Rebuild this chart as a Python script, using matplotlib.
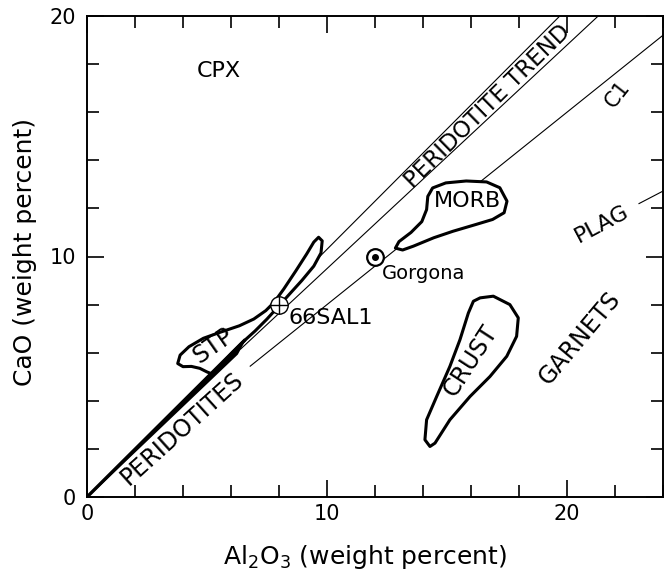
import matplotlib.pyplot as plt

# field outlines, Al2O3 vs CaO (weight percent)
stp_al = [3.78, 3.88, 4.25, 4.85, 5.55, 6.35, 6.95, 7.45, 7.8, 8.2, 8.7, 9.15, 9.45, 9.65, 9.8,
          9.75, 9.45, 8.95, 8.45, 8.0, 7.5, 7.0, 6.5, 6.0, 5.5, 5.25, 5.0, 4.7, 4.35, 4.0, 3.78]
stp_ca = [5.55, 5.9, 6.25, 6.6, 6.85, 7.12, 7.4, 7.75, 8.1, 8.65, 9.4, 10.1, 10.6, 10.8, 10.65,
          10.15, 9.6, 9.0, 8.45, 7.95, 7.4, 6.9, 6.45, 5.95, 5.4, 5.1, 5.2, 5.35, 5.43, 5.42, 5.55]

morb_al = [12.85, 13.0, 13.5, 13.95, 14.15, 14.2, 14.4, 14.95, 15.8, 16.65, 17.2, 17.5,
           17.38, 16.9, 16.2, 15.25, 14.45, 13.6, 13.15, 12.85]
morb_ca = [10.35, 10.62, 11.0, 11.45, 11.95, 12.5, 12.85, 13.06, 13.14, 13.1, 12.86, 12.3,
           11.82, 11.54, 11.33, 11.05, 10.78, 10.43, 10.27, 10.35]

crust_al = [16.38, 16.93, 17.62, 17.97, 17.9, 17.49, 16.79, 15.96, 15.12, 14.5, 14.29, 14.08,
            14.15, 14.57, 15.12, 15.54, 15.89, 16.1, 16.38]
crust_ca = [8.28, 8.35, 8.0, 7.45, 6.68, 5.85, 5.01, 4.18, 3.21, 2.24, 2.1, 2.38,
            3.21, 4.18, 5.43, 6.54, 7.65, 8.14, 8.28]

# reference lines (start, end)
c1_al = [6.8, 24.0]
c1_ca = [5.44, 19.2]
trend_upper_al = [9.7, 19.7]
trend_upper_ca = [10.0, 20.0]
trend_lower_al = [6.4, 21.3]
trend_lower_ca = [6.15, 20.0]
plag_al = [23.0, 24.0]
plag_ca = [12.2, 12.72]

# peridotite wedge
perid_al = [0.0, 6.55, 6.25]
perid_ca = [0.0, 6.5, 5.95]

# samples
sal_al, sal_ca = 8.0, 8.0
gorgona_al, gorgona_ca = 12.0, 10.0

fig = plt.figure(figsize=(6.65, 5.79), dpi=100)
ax = fig.add_axes([87 / 665, 82 / 579, 576 / 665, 481 / 579])
ax.set_xlim(0, 24)
ax.set_ylim(0, 20)

lw_thin = 0.8
ax.plot(c1_al, c1_ca, color="black", lw=lw_thin, zorder=1)
ax.plot(trend_upper_al, trend_upper_ca, color="black", lw=lw_thin, zorder=1)
ax.plot(trend_lower_al, trend_lower_ca, color="black", lw=lw_thin, zorder=1)
ax.plot(plag_al, plag_ca, color="black", lw=lw_thin, zorder=1)

for al, ca in [(stp_al, stp_ca), (morb_al, morb_ca), (crust_al, crust_ca)]:
    ax.fill(al, ca, facecolor="white", edgecolor="black", lw=2.2, joinstyle="round", zorder=2)

ax.fill(perid_al, perid_ca, color="black", lw=1.5, joinstyle="round", zorder=3)
ax.plot([perid_al[0], perid_al[1]], [perid_ca[0], perid_ca[1]], color="black", lw=2.4, zorder=3)

# 66SAL1 (circle with cross) and Gorgona (bullseye)
ax.plot(sal_al, sal_ca, marker="o", ms=12.5, mfc="white", mec="black", mew=1.0, zorder=4)
ax.plot(sal_al, sal_ca, marker="+", ms=12.5, mec="black", mew=1.0, zorder=5)
ax.plot(gorgona_al, gorgona_ca, marker="o", ms=12, mfc="white", mec="black", mew=1.6, zorder=4)
ax.plot(gorgona_al, gorgona_ca, marker="o", ms=4, mfc="black", mec="black", zorder=5)

txt = dict(color="black", ha="center", va="center", rotation_mode="anchor")
ax.text(5.5, 17.7, "CPX", fontsize=16, **txt)
ax.text(16.7, 16.25, "PERIDOTITE TREND", fontsize=16.5, rotation=44.5, **txt)
ax.text(22.1, 16.75, "C1", fontsize=15, rotation=52, **txt)
ax.text(15.85, 12.3, "MORB", fontsize=16, **txt)
ax.text(21.45, 11.35, "PLAG", fontsize=16, rotation=28, **txt)
ax.text(5.25, 6.28, "STP", fontsize=17, rotation=35, **txt)
ax.text(3.95, 2.83, "PERIDOTITES", fontsize=17, rotation=42, **txt)
ax.text(16.0, 5.65, "CRUST", fontsize=17, rotation=57, **txt)
ax.text(20.55, 6.6, "GARNETS", fontsize=17, rotation=50, **txt)
ax.text(12.27, 9.3, "Gorgona", fontsize=14, ha="left", va="center")
ax.text(8.39, 7.44, "66SAL1", fontsize=16, ha="left", va="center")

ax.set_xticks([0, 10, 20])
ax.set_yticks([0, 10, 20])
ax.set_xticks(range(0, 25, 2), minor=True)
ax.set_yticks(range(0, 21, 2), minor=True)
ax.tick_params(which="both", direction="in", top=True, right=True, width=1.2, labelsize=15)
ax.tick_params(which="major", length=12)
ax.tick_params(which="minor", length=8.5)
ax.tick_params(axis="x", pad=5)
ax.tick_params(axis="y", pad=8)
for s in ax.spines.values():
    s.set_linewidth(1.4)

ax.set_xlabel("Al$_2$O$_3$ (weight percent)", fontsize=18)
ax.set_ylabel("CaO (weight percent)", fontsize=18)
ax.xaxis.label.set_va("center")
ax.yaxis.label.set_va("center")
ax.xaxis.set_label_coords(0.483, -0.125)
ax.yaxis.set_label_coords(-0.108, 0.51)

fig.savefig("out.png", dpi=100, facecolor="white")
